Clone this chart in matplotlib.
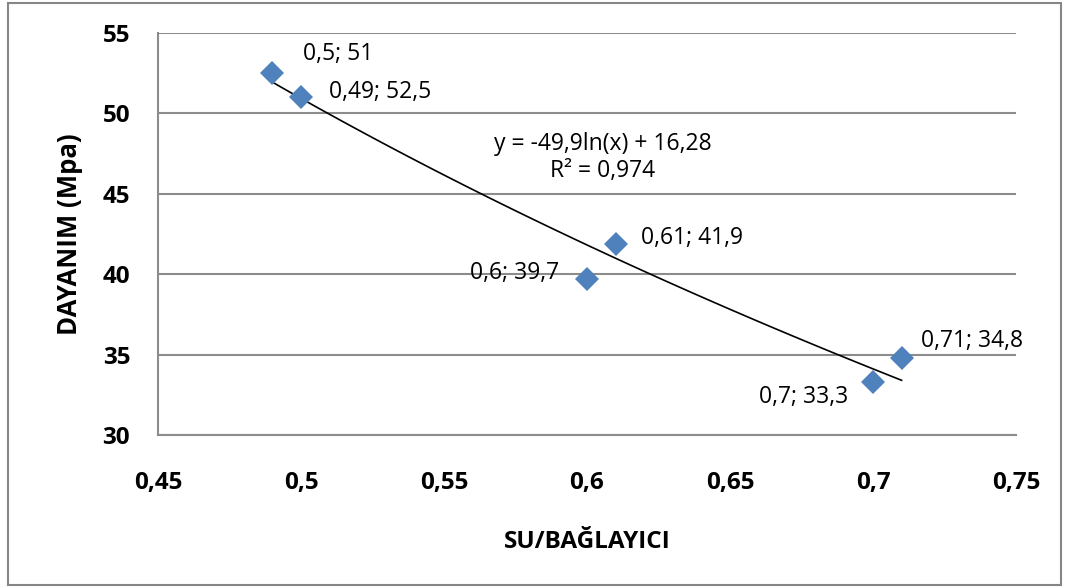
import numpy as np
import matplotlib
matplotlib.use("Agg")
import matplotlib.pyplot as plt
from matplotlib.patches import Rectangle

plt.rcParams['font.family'] = ['Open Sans', 'DejaVu Sans']

# data
su_baglayici = [0.49, 0.5, 0.6, 0.61, 0.7, 0.71]
dayanim = [52.5, 51, 39.7, 41.9, 33.3, 34.8]
etiketler = ['0,5; 51', '0,49; 52,5', '0,6; 39,7', '0,61; 41,9', '0,7; 33,3', '0,71; 34,8']
x_ticks = [0.45, 0.5, 0.55, 0.6, 0.65, 0.7, 0.75]
x_ticklabels = ['0,45', '0,5', '0,55', '0,6', '0,65', '0,7', '0,75']
y_ticks = [30, 35, 40, 45, 50, 55]
denklem = 'y = -49,9ln(x) + 16,28\nR² = 0,974'

fig = plt.figure(figsize=(10.65, 5.87), dpi=100)
ax = fig.add_axes([158/1065, 1-435/587, (1016-158)/1065, (435-33)/587])

# outer chart border
fig.patches.append(Rectangle((8/1065, 2/587), 1053/1065, 582/587, transform=fig.transFigure,
                             fill=False, edgecolor='#868686', linewidth=1.5))

# log trendline fitted on the data
b, a = np.polyfit(np.log(su_baglayici), dayanim, 1)
xs = np.linspace(min(su_baglayici), max(su_baglayici), 100)
ax.plot(xs, b*np.log(xs) + a, color='black', linewidth=1.2, zorder=2)

ax.plot(su_baglayici, dayanim, linestyle='none', marker='D', markersize=12,
        color='#4F81BD', markeredgewidth=0, zorder=3)

# data labels (offsets in points)
offsets = [(22, 14), (20, 4), (-20, 4), (18, 4), (-18, -11), (14, 12)]
aligns = ['left', 'left', 'right', 'left', 'right', 'left']
for x, y, t, off, ha in zip(su_baglayici, dayanim, etiketler, offsets, aligns):
    ax.annotate(t, (x, y), xytext=off, textcoords='offset points', ha=ha, va='center',
                fontsize=16.5)

ax.text(0.6055, 47.25, denklem, ha='center', va='center', fontsize=16.5, linespacing=1.15)

ax.set_xlim(0.45, 0.75)
ax.set_ylim(30, 55)
ax.set_xticks(x_ticks)
ax.set_xticklabels(x_ticklabels)
ax.set_yticks(y_ticks)
ax.tick_params(axis='y', length=0, labelsize=17.5, pad=20)
ax.tick_params(axis='x', length=0, labelsize=17.5, pad=26)
for lab in ax.get_xticklabels() + ax.get_yticklabels():
    lab.set_fontweight('bold')
ax.yaxis.grid(True, color='#8c8c8c', linewidth=1.5)
ax.set_axisbelow(True)
for s in ['top', 'right']:
    ax.spines[s].set_visible(False)
for s in ['left', 'bottom']:
    ax.spines[s].set_color('#8c8c8c')
    ax.spines[s].set_linewidth(1.5)

ax.set_xlabel('SU/BAĞLAYICI', fontsize=17.5, fontweight='bold', labelpad=25)
ax.set_ylabel('DAYANIM (Mpa)', fontsize=18.5, fontweight='bold', labelpad=14)

fig.savefig('out.png', dpi=100)
